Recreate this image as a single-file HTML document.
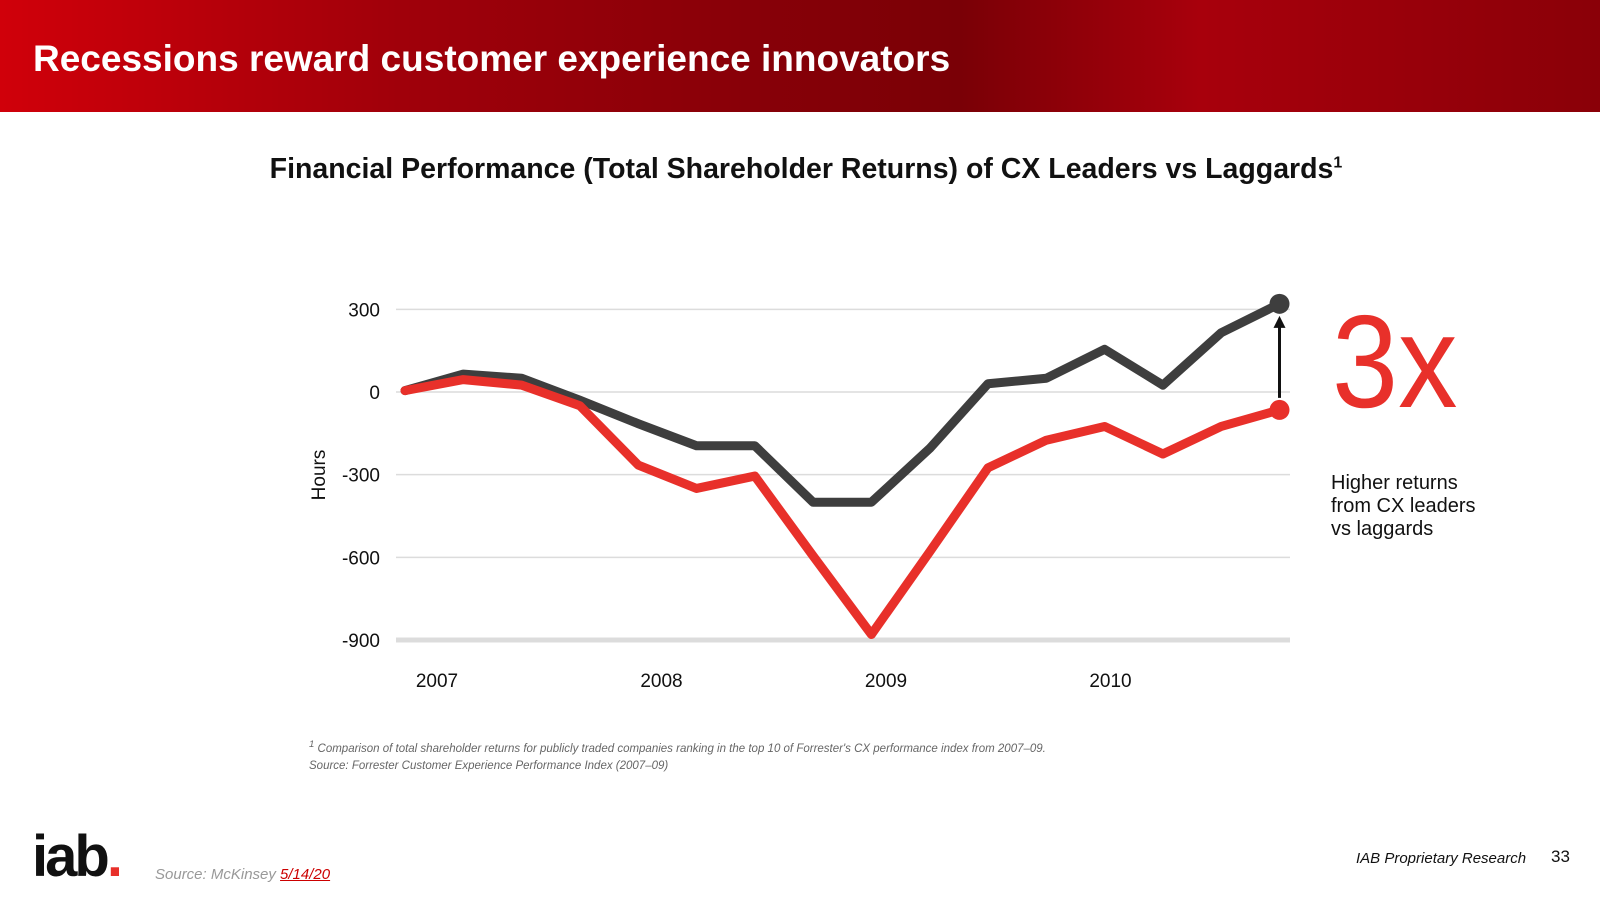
<!DOCTYPE html>
<html><head><meta charset="utf-8"><style>
body{margin:0;width:1600px;height:900px;overflow:hidden;background:#fff;font-family:"Liberation Sans",sans-serif;position:relative}
.abs{position:absolute}
</style></head><body>
<div class="abs" style="left:0;top:0;width:1600px;height:112px;background:linear-gradient(90deg,#d0000a 0%,#a0000a 25%,#8a0008 45%,#7a0006 60%,#a8000c 75%,#8a0008 100%)"></div>
<div class="abs" style="left:33px;top:38px;color:#fff;font-size:37px;font-weight:bold">Recessions reward customer experience innovators</div>
<div class="abs" style="left:0;width:1600px;top:153px;text-align:center;font-size:28.5px;font-weight:bold;color:#111;padding-left:12px;box-sizing:border-box">Financial Performance (Total Shareholder Returns) of CX Leaders vs Laggards<sup style="font-size:16px">1</sup></div>
<svg class="abs" style="left:0;top:0" width="1600" height="900">
<g id="grid"></g><g id="lines"></g>
<text x="325" y="475" transform="rotate(-90 325 475)" text-anchor="middle" font-size="19" fill="#111" font-family="Liberation Sans">Hours</text>
</svg>
<div class="abs" style="left:1332px;top:296px;font-size:132px;color:#e8302a;line-height:1;transform:scaleX(0.9);transform-origin:left">3x</div>
<div class="abs" style="left:1331px;top:472px;font-size:20px;color:#111;line-height:23px">Higher returns<br>from CX leaders<br>vs laggards</div>
<div class="abs" style="left:309px;top:739px;font-size:11.5px;font-style:italic;color:#666"><sup>1</sup> Comparison of total shareholder returns for publicly traded companies ranking in the top 10 of Forrester's CX performance index from 2007–09.</div>
<div class="abs" style="left:309px;top:760px;font-size:11.5px;font-style:italic;color:#666">Source: Forrester Customer Experience Performance Index (2007–09)</div>
<div class="abs" style="left:32px;top:828px;font-size:58px;font-weight:bold;color:#111;letter-spacing:-3px;line-height:1">iab<span style="color:#e8302a">.</span></div>
<div class="abs" style="left:155px;top:866px;font-size:15px;font-style:italic;color:#999">Source: McKinsey <span style="color:#c00;text-decoration:underline">5/14/20</span></div>
<div class="abs" style="left:1356px;top:850px;font-size:15px;font-style:italic;color:#111">IAB Proprietary Research</div>
<div class="abs" style="left:1551px;top:847px;font-size:17px;color:#111">33</div>
<script>
const yTicks=[300,0,-300,-600,-900];
const xLabels=["2007","2008","2009","2010"];
const leaders=[5,65,50,-30,-115,-195,-195,-400,-400,-205,30,50,155,25,215,320];
const laggards=[5,45,25,-50,-265,-350,-305,-595,-880,-580,-275,-175,-125,-225,-125,-65];
const NS="http://www.w3.org/2000/svg";
const y=v=>392-v*(248/900)*1.0;
const x=i=>405+i*58.3;
const xl=i=>437+i*224.5;
const grid=document.getElementById('grid'),lines=document.getElementById('lines');
function mk(t,a,p){const e=document.createElementNS(NS,t);for(const k in a)e.setAttribute(k,a[k]);p.appendChild(e);return e;}
yTicks.forEach(v=>{
 const l=mk('line',{x1:396,x2:1290,y1:y(v),y2:y(v),stroke:'#dcdcdc','stroke-width':v===-900?5:1.5},grid);
 
 
 const t=mk('text',{x:380,y:y(v)+7,'text-anchor':'end','font-size':19,fill:'#111','font-family':'Liberation Sans'},grid);t.textContent=v;
 
 
});
xLabels.forEach((s,i)=>{const t=mk('text',{x:xl(i),y:687,'text-anchor':'middle','font-size':19,fill:'#111','font-family':'Liberation Sans'},grid);t.textContent=s;
 
 });
function series(d,c,n){
 const p=mk('polyline',{points:d.map((v,i)=>x(i)+','+y(v)).join(' '),fill:'none',stroke:c,'stroke-width':9,'stroke-linejoin':'round','stroke-linecap':'round'},lines);
 
 
 const last=d.length-1;
 const c2=mk('circle',{cx:x(last),cy:y(d[last]),r:10,fill:c},lines);
 
 
}
series(leaders,'#3e3e3e','leaders');
series(laggards,'#e8302a','laggards');
const li=leaders.length-1;
const ax=x(li);
const a=mk('line',{x1:ax,x2:ax,y1:y(laggards[li])-12,y2:y(leaders[li])+22,stroke:'#111','stroke-width':3},lines);


const ah=mk('polygon',{points:`${ax-6},${y(leaders[li])+24} ${ax+6},${y(leaders[li])+24} ${ax},${y(leaders[li])+12}`,fill:'#111'},lines);


</script>
</body></html>
